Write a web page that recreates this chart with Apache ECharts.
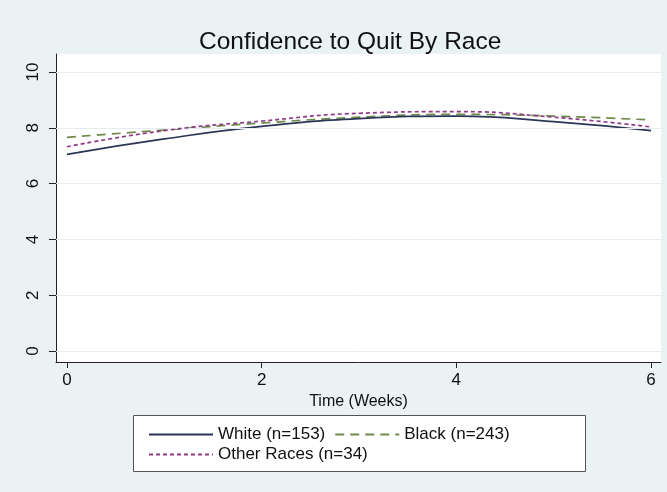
<!DOCTYPE html>
<html>
<head>
<meta charset="utf-8">
<script src="https://cdn.jsdelivr.net/npm/echarts@6/dist/echarts.min.js"></script>
<style>
html,body{margin:0;padding:0;background:#eaf2f3;}
#chart{width:667px;height:492px;}
</style>
</head>
<body>
<div id="chart"></div>
<script>
// Data
var weeks = [0, 1, 2, 3, 4, 5, 6];
var whiteVals = [7.05, 7.60, 8.05, 8.33, 8.42, 8.22, 7.90];
var blackVals = [7.66, 7.92, 8.17, 8.38, 8.48, 8.42, 8.28];
var otherVals = [7.32, 7.90, 8.24, 8.52, 8.58, 8.38, 8.03];
var xTicks = [0, 2, 4, 6];
var yTicks = [0, 2, 4, 6, 8, 10];
var seriesNames = ['White (n=153)', 'Black (n=243)', 'Other Races (n=34)'];

function pairs(xs, ys) { return xs.map(function (x, i) { return [x, ys[i]]; }); }

var font = '"Liberation Sans", Arial, Helvetica, sans-serif';
var chart = echarts.init(document.getElementById('chart'), null, {renderer: 'canvas'});
var legendCommon = {
  itemWidth: 64, itemHeight: 14, itemGap: 9, padding: 0,
  itemStyle: {opacity: 0, borderWidth: 0},
  textStyle: {fontFamily: font, fontSize: 17, color: '#111'}
};
chart.setOption({
  backgroundColor: '#eaf2f3',
  animation: false,
  title: {
    text: 'Confidence to Quit By Race',
    left: 194, top: 25,
    textStyle: {fontFamily: font, fontSize: 24.5, fontWeight: 'normal', color: '#111'}
  },
  grid: {
    left: 56, right: 6, top: 54, bottom: 130,
    show: true, backgroundColor: '#ffffff', borderWidth: 0,
    containLabel: false
  },
  xAxis: {
    type: 'value', min: -0.113, max: 6.103,
    name: 'Time (Weeks)', nameLocation: 'middle', nameGap: 30,
    nameTextStyle: {fontFamily: font, fontSize: 16, color: '#111'},
    axisLine: {show: true, onZero: false, lineStyle: {color: '#222', width: 1}},
    axisTick: {show: true, length: 6, customValues: xTicks, lineStyle: {color: '#222'}},
    axisLabel: {customValues: xTicks, fontFamily: font, fontSize: 17, color: '#111', margin: 10},
    splitLine: {show: false}
  },
  yAxis: {
    type: 'value', min: -0.394, max: 10.645,
    axisLine: {show: true, onZero: false, lineStyle: {color: '#222', width: 1}},
    axisTick: {show: true, length: 7, customValues: yTicks, lineStyle: {color: '#222'}},
    axisLabel: {customValues: yTicks, rotate: 90, fontFamily: font, fontSize: 17, color: '#111', margin: 14},
    splitLine: {show: false}
  },
  legend: [
    Object.assign({data: [seriesNames[0], seriesNames[1]], left: 148, top: 426}, legendCommon),
    Object.assign({data: [seriesNames[2]], left: 148, top: 446}, legendCommon)
  ],
  graphic: [{
    type: 'rect', z: -1, silent: true,
    shape: {x: 133.5, y: 415.5, width: 452, height: 56},
    style: {fill: '#ffffff', stroke: '#555', lineWidth: 1}
  }],
  series: [{
    name: 'grid', type: 'line', data: [], silent: true,
    markLine: {
      silent: true, symbol: 'none', label: {show: false},
      lineStyle: {color: '#e4ecee', width: 1, type: 'solid'},
      data: yTicks.map(function (v) { return {yAxis: v}; })
    }
  }, {
    name: seriesNames[0], type: 'line', smooth: true, showSymbol: false, symbol: 'none',
    data: pairs(weeks, whiteVals),
    lineStyle: {color: '#2b3556', width: 1.7, type: 'solid'},
    itemStyle: {color: '#2b3556'}, z: 4
  }, {
    name: seriesNames[1], type: 'line', smooth: true, showSymbol: false, symbol: 'none',
    data: pairs(weeks, blackVals),
    lineStyle: {color: '#6f8a4a', width: 1.7, type: [9, 6]},
    itemStyle: {color: '#6f8a4a'}, z: 3
  }, {
    name: seriesNames[2], type: 'line', smooth: true, showSymbol: false, symbol: 'none',
    data: pairs(weeks, otherVals),
    lineStyle: {color: '#8e3a88', width: 1.7, type: [4, 3]},
    itemStyle: {color: '#8e3a88'}, z: 5
  }]
});
</script>
</body>
</html>
